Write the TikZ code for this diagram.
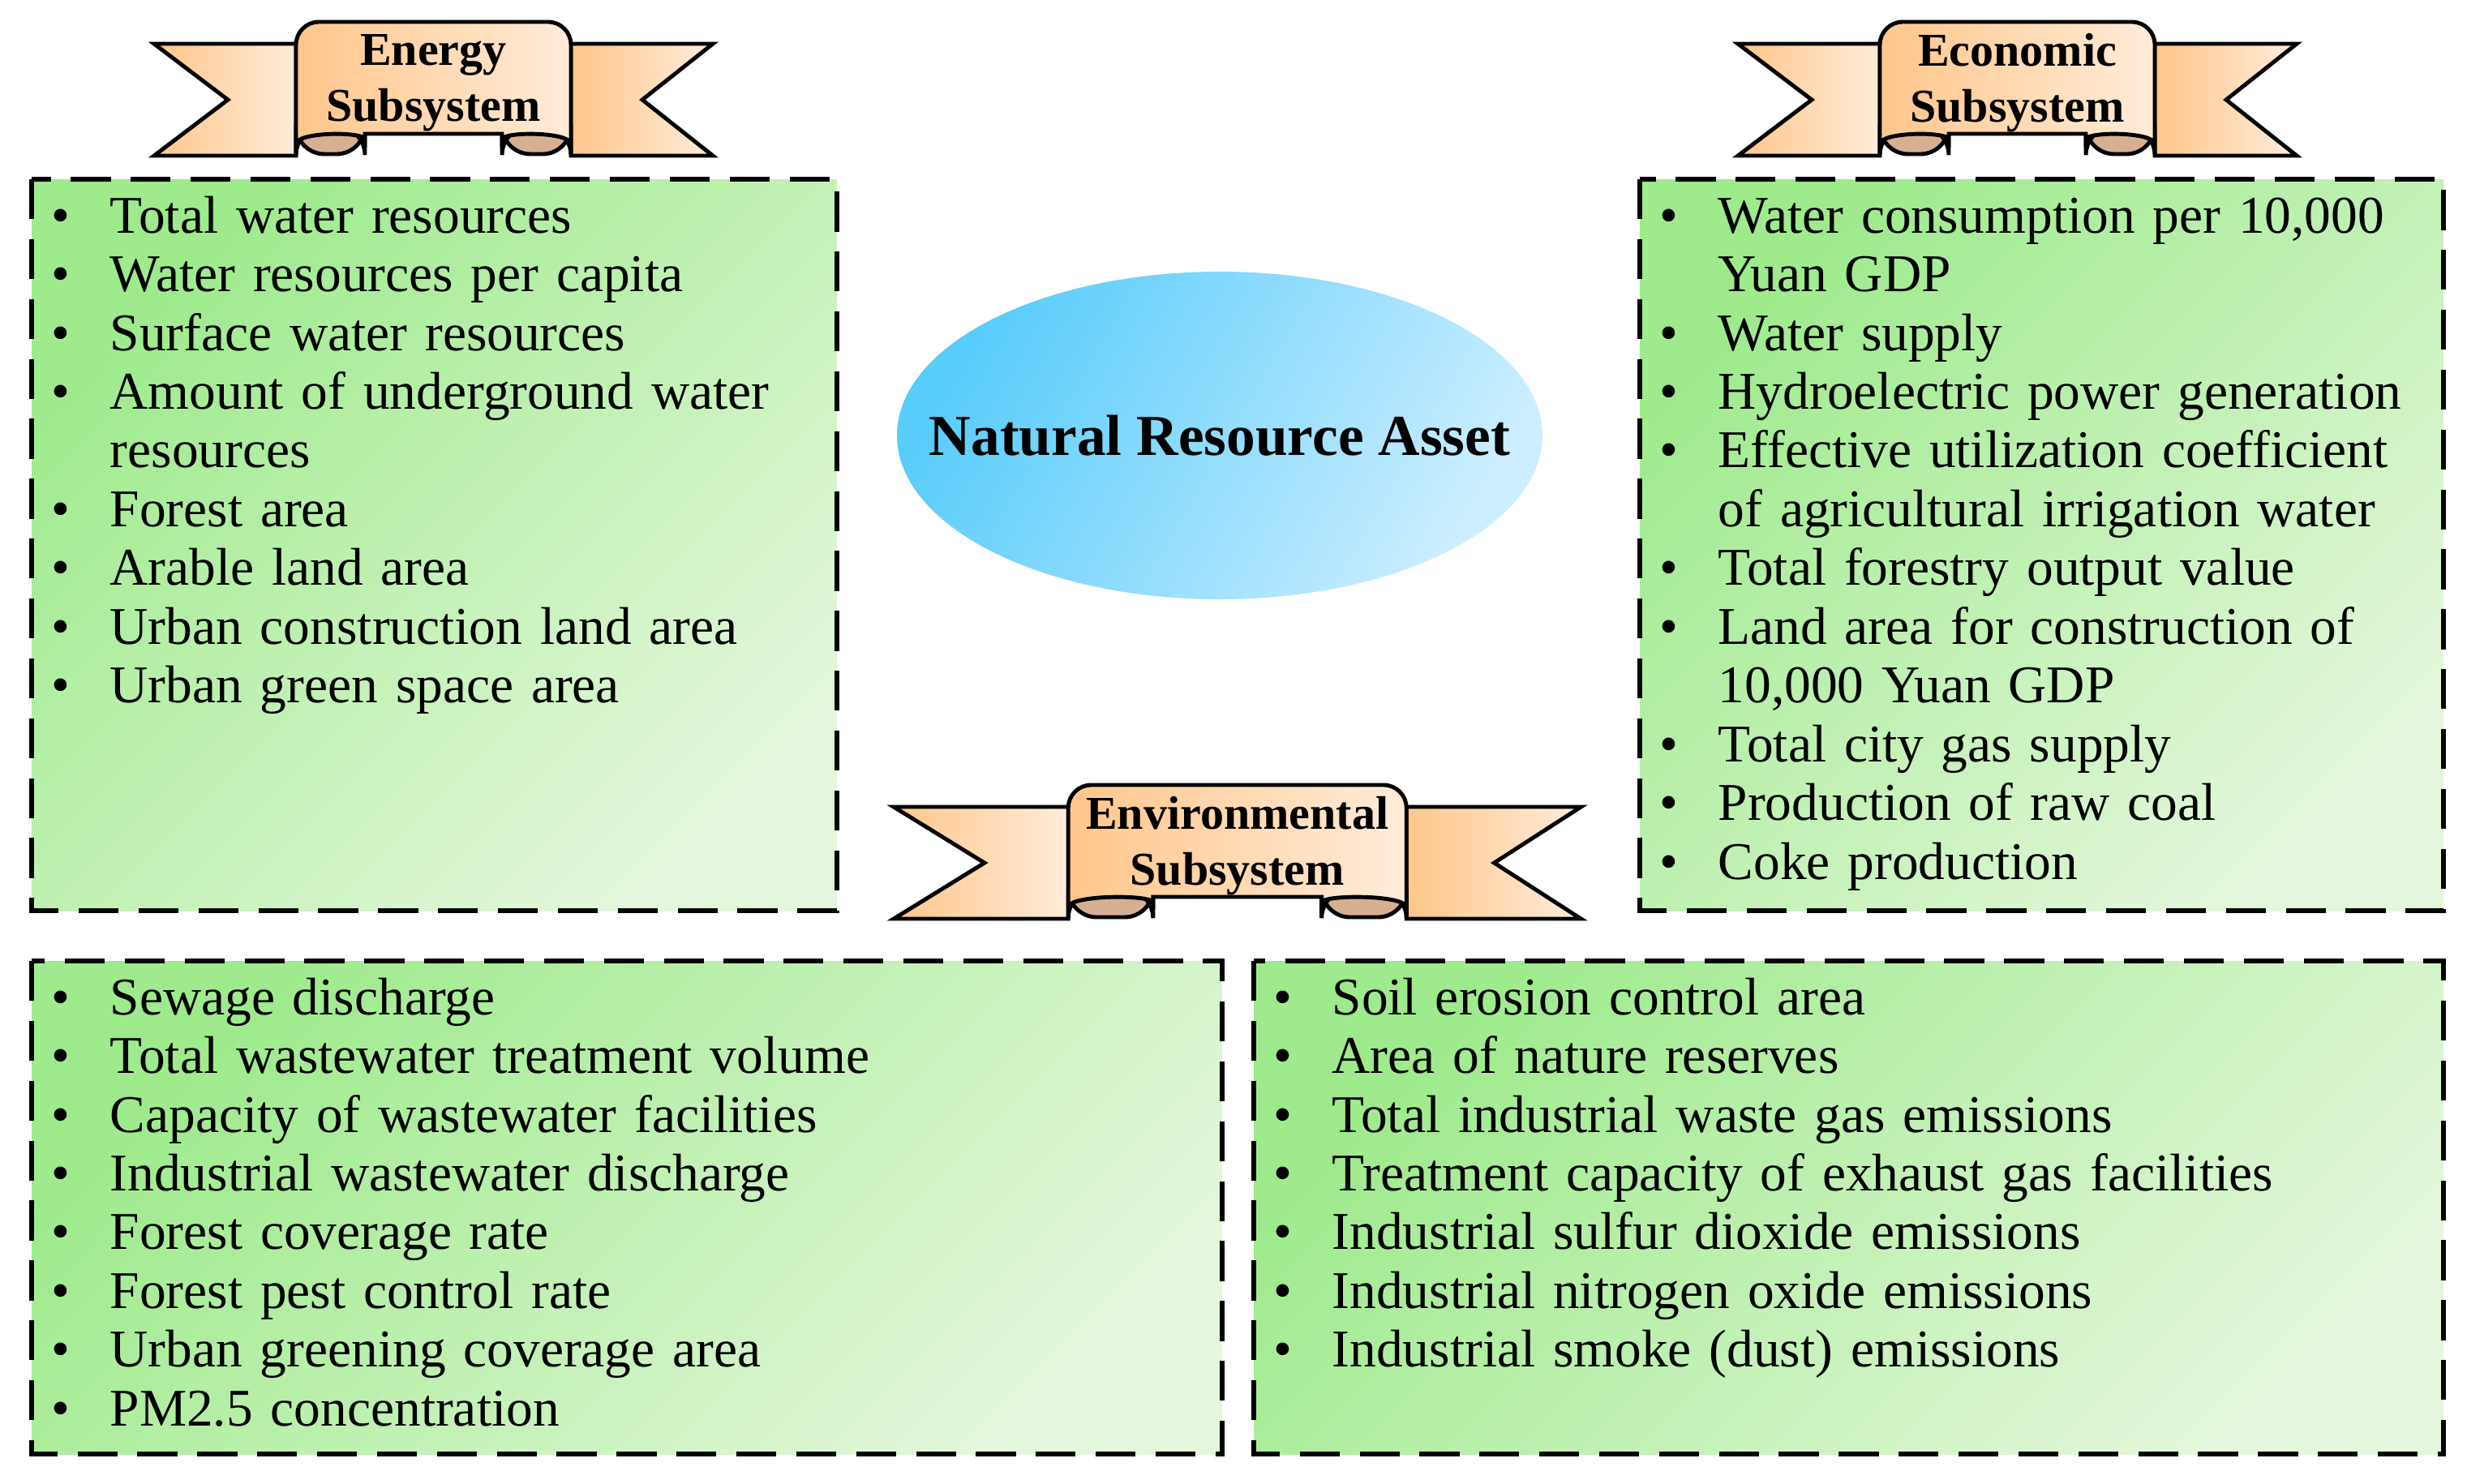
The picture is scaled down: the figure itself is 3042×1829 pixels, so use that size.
\documentclass[tikz,border=0pt]{standalone}
\usepackage{fontspec}
\setmainfont{Liberation Serif}
\usetikzlibrary{calc}
\definecolor{gA}{RGB}{158,234,140}
\definecolor{gB}{RGB}{228,247,220}
\definecolor{oA}{RGB}{255,198,138}
\definecolor{oB}{RGB}{255,236,218}
\definecolor{tan}{RGB}{214,176,146}
\definecolor{bA}{RGB}{88,204,250}
\definecolor{bB}{RGB}{205,238,255}
\newcommand{\bi}[1]{\par\hangindent=0.72cm\hangafter=1\noindent\makebox[0.72cm][l]{\textbullet}#1}
\newcommand{\ct}[1]{\par\noindent\hspace*{0.72cm}#1}
\tikzset{
  listbox/.style={draw, dashed, line width=1.6pt, dash pattern=on 14pt off 7pt, top color=gA, bottom color=gB, shading angle=45},
  listtext/.style={anchor=north west, text width=#1, inner sep=0pt, font=\fontsize{18.6}{20.6}\selectfont, align=left},
  bann/.style={draw, line width=1.4pt, left color=oA, right color=oB, line join=miter},
  curl/.style={draw, line width=1.4pt, fill=tan, rounded corners=10pt},
}
% banner: #1 shift, #2 xscale, #3 label, #4 name
\newcommand{\banner}[4]{%
 \begin{scope}[shift={(#1)}, xscale=#2]
  \path[bann] (0,0) -- (175,0) -- (175,138) -- (0,138) -- (91,69) -- cycle;
  \path[bann] (689,0) -- (514,0) -- (514,138) -- (689,138) -- (602,69) -- cycle;
  \path[curl] (175,102) rectangle (260,136);
  \path[curl] (429,102) rectangle (514,136);
  \path[bann] (175,124) [rounded corners=8pt] -- (175,-27) -- (514,-27) [sharp corners] -- (514,124)
     .. controls (514,108) and (429,108) .. (429,118) -- (429,111) -- (260,111) -- (260,118)
     .. controls (260,108) and (175,108) .. (175,124) -- cycle;
 \end{scope}
 \node[name=#4, font=\fontsize{16.5}{19.5}\bfseries\selectfont, align=center] at ($(#1)+(#2*344.5,48)$) {#3};}
\begin{document}
\begin{tikzpicture}[x=0.01cm,y=-0.01cm]
\useasboundingbox (0,0) rectangle (3042,1829);
% boxes
\path[listbox] (39,221) rectangle (1032,1123);
\path[listbox] (2022,221) rectangle (3013,1123);
\path[listbox] (39,1185) rectangle (1507,1793);
\path[listbox] (1546,1185) rectangle (3013,1793);
% ellipse
\path[left color=bA, right color=bB, shading angle=60] (1504,537) ellipse (398 and 202);
\node[name=nra, font=\fontsize{20.3}{24}\bfseries\selectfont] at (1504,537) {Natural Resource Asset};
% banners
\banner{190,54}{1}{Energy\\Subsystem}{en}
\banner{2143,54}{1}{Economic\\Subsystem}{ec}
\banner{1102,995}{1.23}{Environmental\\Subsystem}{env}
% lists
\node[listtext=9.35cm, name=l1] at (63,214) {%
\bi{Total water resources}
\bi{Water resources per capita}
\bi{Surface water resources}
\bi{Amount of underground water resources}
\bi{Forest area}
\bi{Arable land area}
\bi{Urban construction land area}
\bi{Urban green space area}};
\node[listtext=9.5cm, name=l2] at (2046,214) {%
\bi{Water consumption per 10,000 Yuan GDP}
\bi{Water supply}
\bi{Hydroelectric power generation}
\bi{Effective utilization coefficient}
\ct{of agricultural irrigation water}
\bi{Total forestry output value}
\bi{Land area for construction of}
\ct{10,000 Yuan GDP}
\bi{Total city gas supply}
\bi{Production of raw coal}
\bi{Coke production}};
\node[listtext=13.8cm, name=l3] at (63,1178) {%
\bi{Sewage discharge}
\bi{Total wastewater treatment volume}
\bi{Capacity of wastewater facilities}
\bi{Industrial wastewater discharge}
\bi{Forest coverage rate}
\bi{Forest pest control rate}
\bi{Urban greening coverage area}
\bi{PM2.5 concentration}};
\node[listtext=13.8cm, name=l4] at (1570,1178) {%
\bi{Soil erosion control area}
\bi{Area of nature reserves}
\bi{Total industrial waste gas emissions}
\bi{Treatment capacity of exhaust gas facilities}
\bi{Industrial sulfur dioxide emissions}
\bi{Industrial nitrogen oxide emissions}
\bi{Industrial smoke (dust) emissions}};
\end{tikzpicture}
\end{document}
